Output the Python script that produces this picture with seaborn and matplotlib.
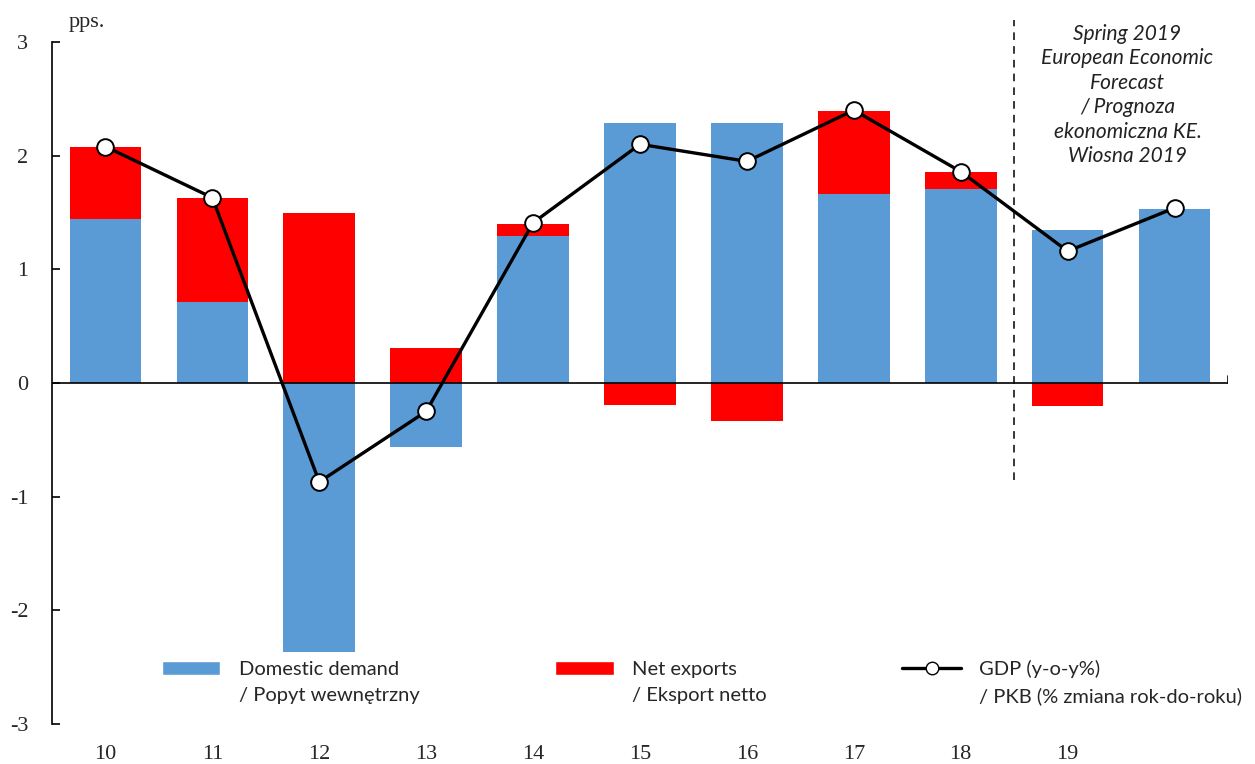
import matplotlib
matplotlib.use("Agg")
import matplotlib.pyplot as plt
import seaborn as sns
import numpy as np
import pandas as pd
from matplotlib.patches import Patch
from matplotlib.lines import Line2D

# data
years = ["10", "11", "12", "13", "14", "15", "16", "17", "18", "19", "20"]
year_labels = ["10", "11", "12", "13", "14", "15", "16", "17", "18", "19", ""]
domestic = [1.44, 0.71, -2.37, -0.56, 1.29, 2.29, 2.29, 1.66, 1.71, 1.35, 1.53]
net_exports = [0.64, 0.92, 1.50, 0.31, 0.11, -0.19, -0.33, 0.73, 0.15, -0.20, 0.0]
gdp = [2.08, 1.63, -0.87, -0.25, 1.41, 2.10, 1.95, 2.40, 1.86, 1.16, 1.54]

blue = "#5B9BD5"
red = "#FF0000"

sns.set_theme(style="white")
plt.rcParams["font.family"] = ["Lato", "DejaVu Sans"]

# red bars drawn as the stacked total, blue bars over them from zero
stack_top = [n + d if n * d > 0 else n for d, n in zip(domestic, net_exports)]
df = pd.DataFrame({"year": years, "domestic": domestic, "stack": stack_top,
                   "gdp": gdp, "pos": np.arange(len(years))})

fig = plt.figure(figsize=(12.55, 7.64), dpi=100)
ax = fig.add_axes([52 / 1255, 40 / 764, 1176 / 1255, 682 / 764])

sns.barplot(data=df, x="year", y="stack", color=red, saturation=1,
            width=0.67, linewidth=0, ax=ax, order=years)
sns.barplot(data=df, x="year", y="domestic", color=blue, saturation=1,
            width=0.67, linewidth=0, ax=ax, order=years)
sns.lineplot(data=df, x="pos", y="gdp", color="black", lw=2.4, marker="o",
             markersize=12, markerfacecolor="white", markeredgecolor="black",
             markeredgewidth=1.4, ax=ax, zorder=5)

ax.set_xlim(-0.5, 10.5)
ax.set_ylim(-3, 3)
ax.axhline(0, color="black", lw=1.2, zorder=4)
ax.plot([10.5, 10.5], [0, 0.06], color="black", lw=1.2, zorder=4)

# forecast divider
ax.plot([8.5, 8.5], [-0.85, 3.19], color="black", lw=1.1, ls=(0, (5, 4)),
        clip_on=False, zorder=3)
ax.text(9.56, 3.16,
        "Spring 2019\nEuropean Economic\nForecast\n/ Prognoza\nekonomiczna KE.\nWiosna 2019",
        ha="center", va="top", fontsize=15, style="italic", linespacing=1.28,
        color="#222222")

for s in ["top", "right", "bottom"]:
    ax.spines[s].set_visible(False)
ax.spines["left"].set_color("black")
ax.spines["left"].set_linewidth(1.2)

serif = "Liberation Serif"
ax.set_yticks([-3, -2, -1, 0, 1, 2, 3])
ax.set_yticklabels(["-3", "-2", "-1", "0", "1", "2", "3"], family=serif,
                   fontsize=16)
ax.tick_params(axis="y", direction="in", length=6, width=1.2, pad=17,
               left=True, color="black")
ax.set_xticks(np.arange(len(years)))
ax.set_xticklabels(year_labels, family=serif, fontsize=16)
ax.tick_params(axis="x", length=0, pad=15)
ax.set_xlabel("")
ax.set_ylabel("")
ax.text(0.0145, 1.015, "pps.", transform=ax.transAxes, family=serif,
        fontsize=16, va="bottom", ha="left")

blank = Patch(facecolor="none", edgecolor="none")
handles = [Patch(facecolor=blue), blank, Patch(facecolor=red), blank,
           Line2D([], [], color="black", lw=2.4, marker="o", markersize=9,
                  markerfacecolor="white", markeredgecolor="black"), blank]
labels = ["Domestic demand", "/ Popyt wewnętrzny", "Net exports",
          "/ Eksport netto", "GDP (y-o-y%)", "/ PKB (% zmiana rok-do-roku)"]
ax.legend(handles, labels, ncol=3, loc="upper left",
          bbox_to_anchor=(162 / 1255, (764 - 660) / 764),
          bbox_transform=fig.transFigure,
          frameon=False, fontsize=14.5, handlelength=2.9, handleheight=0.7,
          handletextpad=0.9, columnspacing=6.75, labelspacing=0.45, borderpad=0,
          borderaxespad=0)

fig.savefig("out.png", dpi=100)
